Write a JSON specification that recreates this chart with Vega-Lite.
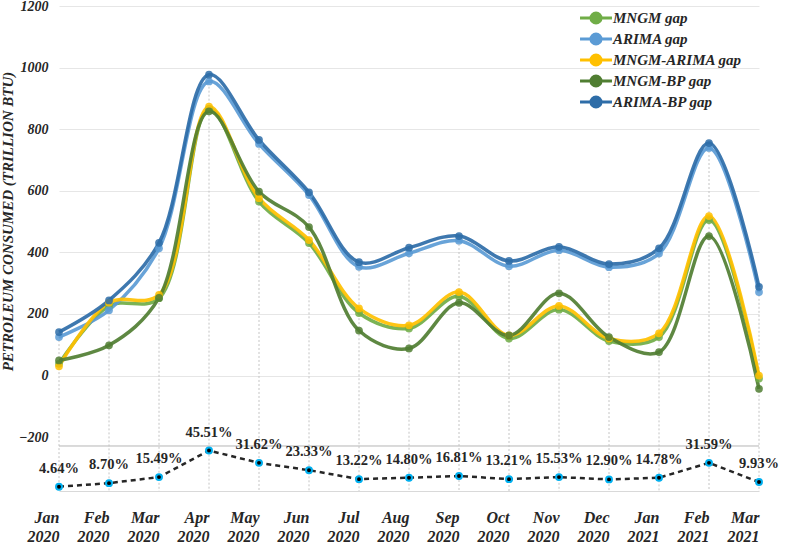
{
  "$schema": "https://vega.github.io/schema/vega-lite/v6.json",
  "autosize": {"type": "none"},
  "padding": {"left": 59, "top": 6, "right": 31, "bottom": 52},
  "width": 700,
  "height": 485,
  "background": "white",
  "config": {
    "view": {"stroke": null},
    "font": "Liberation Serif",
    "axis": {"labelFont": "Liberation Serif", "titleFont": "Liberation Serif", "labelColor": "#262626", "titleColor": "#262626"},
    "legend": {"labelFont": "Liberation Serif"}
  },
  "datasets": {
    "gaps": [
      {"month": "Jan 2020", "series": "MNGM gap", "value": 38},
      {"month": "Jan 2020", "series": "ARIMA gap", "value": 125},
      {"month": "Jan 2020", "series": "MNGM-ARIMA gap", "value": 30},
      {"month": "Jan 2020", "series": "MNGM-BP gap", "value": 49},
      {"month": "Jan 2020", "series": "ARIMA-BP gap", "value": 141},
      {"month": "Feb 2020", "series": "MNGM gap", "value": 226},
      {"month": "Feb 2020", "series": "ARIMA gap", "value": 212},
      {"month": "Feb 2020", "series": "MNGM-ARIMA gap", "value": 237},
      {"month": "Feb 2020", "series": "MNGM-BP gap", "value": 98},
      {"month": "Feb 2020", "series": "ARIMA-BP gap", "value": 244},
      {"month": "Mar 2020", "series": "MNGM gap", "value": 251},
      {"month": "Mar 2020", "series": "ARIMA gap", "value": 413},
      {"month": "Mar 2020", "series": "MNGM-ARIMA gap", "value": 262},
      {"month": "Mar 2020", "series": "MNGM-BP gap", "value": 252},
      {"month": "Mar 2020", "series": "ARIMA-BP gap", "value": 431},
      {"month": "Apr 2020", "series": "MNGM gap", "value": 866},
      {"month": "Apr 2020", "series": "ARIMA gap", "value": 955},
      {"month": "Apr 2020", "series": "MNGM-ARIMA gap", "value": 873},
      {"month": "Apr 2020", "series": "MNGM-BP gap", "value": 858},
      {"month": "Apr 2020", "series": "ARIMA-BP gap", "value": 977},
      {"month": "May 2020", "series": "MNGM gap", "value": 565},
      {"month": "May 2020", "series": "ARIMA gap", "value": 752},
      {"month": "May 2020", "series": "MNGM-ARIMA gap", "value": 576},
      {"month": "May 2020", "series": "MNGM-BP gap", "value": 597},
      {"month": "May 2020", "series": "ARIMA-BP gap", "value": 765},
      {"month": "Jun 2020", "series": "MNGM gap", "value": 430},
      {"month": "Jun 2020", "series": "ARIMA gap", "value": 586},
      {"month": "Jun 2020", "series": "MNGM-ARIMA gap", "value": 440},
      {"month": "Jun 2020", "series": "MNGM-BP gap", "value": 482},
      {"month": "Jun 2020", "series": "ARIMA-BP gap", "value": 595},
      {"month": "Jul 2020", "series": "MNGM gap", "value": 203},
      {"month": "Jul 2020", "series": "ARIMA gap", "value": 353},
      {"month": "Jul 2020", "series": "MNGM-ARIMA gap", "value": 218},
      {"month": "Jul 2020", "series": "MNGM-BP gap", "value": 146},
      {"month": "Jul 2020", "series": "ARIMA-BP gap", "value": 368},
      {"month": "Aug 2020", "series": "MNGM gap", "value": 153},
      {"month": "Aug 2020", "series": "ARIMA gap", "value": 397},
      {"month": "Aug 2020", "series": "MNGM-ARIMA gap", "value": 163},
      {"month": "Aug 2020", "series": "MNGM-BP gap", "value": 88},
      {"month": "Aug 2020", "series": "ARIMA-BP gap", "value": 415},
      {"month": "Sep 2020", "series": "MNGM gap", "value": 257},
      {"month": "Sep 2020", "series": "ARIMA gap", "value": 438},
      {"month": "Sep 2020", "series": "MNGM-ARIMA gap", "value": 271},
      {"month": "Sep 2020", "series": "MNGM-BP gap", "value": 236},
      {"month": "Sep 2020", "series": "ARIMA-BP gap", "value": 453},
      {"month": "Oct 2020", "series": "MNGM gap", "value": 120},
      {"month": "Oct 2020", "series": "ARIMA gap", "value": 355},
      {"month": "Oct 2020", "series": "MNGM-ARIMA gap", "value": 130},
      {"month": "Oct 2020", "series": "MNGM-BP gap", "value": 130},
      {"month": "Oct 2020", "series": "ARIMA-BP gap", "value": 372},
      {"month": "Nov 2020", "series": "MNGM gap", "value": 214},
      {"month": "Nov 2020", "series": "ARIMA gap", "value": 407},
      {"month": "Nov 2020", "series": "MNGM-ARIMA gap", "value": 226},
      {"month": "Nov 2020", "series": "MNGM-BP gap", "value": 267},
      {"month": "Nov 2020", "series": "ARIMA-BP gap", "value": 418},
      {"month": "Dec 2020", "series": "MNGM gap", "value": 112},
      {"month": "Dec 2020", "series": "ARIMA gap", "value": 352},
      {"month": "Dec 2020", "series": "MNGM-ARIMA gap", "value": 120},
      {"month": "Dec 2020", "series": "MNGM-BP gap", "value": 125},
      {"month": "Dec 2020", "series": "ARIMA-BP gap", "value": 362},
      {"month": "Jan 2021", "series": "MNGM gap", "value": 125},
      {"month": "Jan 2021", "series": "ARIMA gap", "value": 396},
      {"month": "Jan 2021", "series": "MNGM-ARIMA gap", "value": 137},
      {"month": "Jan 2021", "series": "MNGM-BP gap", "value": 76},
      {"month": "Jan 2021", "series": "ARIMA-BP gap", "value": 413},
      {"month": "Feb 2021", "series": "MNGM gap", "value": 505},
      {"month": "Feb 2021", "series": "ARIMA gap", "value": 739},
      {"month": "Feb 2021", "series": "MNGM-ARIMA gap", "value": 518},
      {"month": "Feb 2021", "series": "MNGM-BP gap", "value": 453},
      {"month": "Feb 2021", "series": "ARIMA-BP gap", "value": 755},
      {"month": "Mar 2021", "series": "MNGM gap", "value": -10},
      {"month": "Mar 2021", "series": "ARIMA gap", "value": 271},
      {"month": "Mar 2021", "series": "MNGM-ARIMA gap", "value": 0},
      {"month": "Mar 2021", "series": "MNGM-BP gap", "value": -43},
      {"month": "Mar 2021", "series": "ARIMA-BP gap", "value": 288}
    ],
    "pct": [
      {"month": "Jan 2020", "pct": 0.0464},
      {"month": "Feb 2020", "pct": 0.0870},
      {"month": "Mar 2020", "pct": 0.1549},
      {"month": "Apr 2020", "pct": 0.4551},
      {"month": "May 2020", "pct": 0.3162},
      {"month": "Jun 2020", "pct": 0.2333},
      {"month": "Jul 2020", "pct": 0.1322},
      {"month": "Aug 2020", "pct": 0.1480},
      {"month": "Sep 2020", "pct": 0.1681},
      {"month": "Oct 2020", "pct": 0.1321},
      {"month": "Nov 2020", "pct": 0.1553},
      {"month": "Dec 2020", "pct": 0.1290},
      {"month": "Jan 2021", "pct": 0.1478},
      {"month": "Feb 2021", "pct": 0.3159},
      {"month": "Mar 2021", "pct": 0.0993}
    ]
  },
  "layer": [
    {
      "data": {"name": "gaps"},
      "layer": [
        {
          "mark": {"type": "rule", "color": "#D9D9D9", "strokeWidth": 1},
          "encoding": {
            "y": {"datum": -228, "type": "quantitative", "scale": {"domain": [-375, 1200], "nice": false, "zero": false}, "title": "PETROLEUM CONSUMED (TRILLION BTU)"}
          }
        },
        {
          "mark": {"type": "rule", "color": "#C4C4C4", "strokeDash": [2, 2], "strokeWidth": 1},
          "encoding": {
            "x": {"field": "month", "type": "ordinal", "sort": null, "scale": {"type": "point", "padding": 0}, "title": null},
            "y": {"aggregate": "max", "field": "value", "type": "quantitative", "scale": {"domain": [-375, 1200], "nice": false, "zero": false}, "title": "PETROLEUM CONSUMED (TRILLION BTU)"},
            "y2": {"datum": -375}
          }
        },
        {
          "encoding": {
            "x": {"field": "month", "type": "ordinal", "sort": null, "scale": {"type": "point", "padding": 0}, "title": null,
              "axis": {"labelExpr": "split(datum.label, ' ')", "labelAngle": 0, "labelFontSize": 16, "labelFontWeight": "bold", "labelFontStyle": "italic", "labelLineHeight": 19, "labelPadding": 26, "ticks": false, "grid": false, "domainColor": "#D9D9D9", "domainWidth": 1}},
            "y": {"field": "value", "type": "quantitative", "scale": {"domain": [-375, 1200], "nice": false, "zero": false}, "title": "PETROLEUM CONSUMED (TRILLION BTU)",
              "axis": {"values": [-200, 0, 200, 400, 600, 800, 1000, 1200], "format": "d", "domain": false, "ticks": false, "grid": true, "gridColor": "#E6E6E6", "gridWidth": 1,
                "gridOpacity": {"condition": {"test": "datum.value < -100", "value": 0}, "value": 1},
                "labelFontSize": 14, "labelFontWeight": "bold", "labelFontStyle": "italic", "labelPadding": 11,
                "titleFontSize": 15, "titleFontWeight": "bold", "titleFontStyle": "italic", "titlePadding": 3, "titleY": 215}},
            "color": {"field": "series", "type": "nominal",
              "scale": {"domain": ["MNGM gap", "ARIMA gap", "MNGM-ARIMA gap", "MNGM-BP gap", "ARIMA-BP gap"], "range": ["#70AD47", "#5B9BD5", "#FFC000", "#507E32", "#2E6DA8"]},
              "legend": {"title": null, "orient": "none", "legendX": 528, "legendY": 3, "padding": 0, "rowPadding": -4,
                "symbolType": "M-2.13,0H-0.67M0.67,0H2.13M-0.67,0A0.67,0.67,0,1,1,0.67,0A0.67,0.67,0,1,1,-0.67,0Z",
                "symbolSize": 225, "symbolStrokeWidth": 3, "symbolOpacity": 1,
                "labelFontSize": 15, "labelFontWeight": "bold", "labelFontStyle": "italic", "labelColor": "#262626", "labelOffset": 8,
                "encode": {"symbols": {"update": {"fill": {"scale": "color", "field": "value"}, "stroke": {"scale": "color", "field": "value"}}}}}}
          },
          "layer": [
            {"mark": {"type": "line", "interpolate": "catmull-rom", "strokeWidth": 3.5, "opacity": 0.92}},
            {"mark": {"type": "point", "filled": true, "size": 60, "opacity": 0.85}}
          ]
        }
      ]
    },
    {
      "data": {"name": "pct"},
      "encoding": {
        "x": {"field": "month", "type": "ordinal", "sort": null, "scale": {"type": "point", "padding": 0}, "title": null},
        "y": {"field": "pct", "type": "quantitative", "scale": {"domain": [-0.002, 5.48], "nice": false, "zero": false}, "axis": null}
      },
      "layer": [
        {"mark": {"type": "line", "color": "#262626", "strokeDash": [5, 4], "strokeWidth": 2.5}},
        {"mark": {"type": "point", "filled": true, "fill": "black", "stroke": "#00B0F0", "strokeWidth": 2, "size": 35, "opacity": 1}},
        {"mark": {"type": "text", "dy": -18, "font": "Liberation Serif", "fontSize": 14.5, "fontWeight": "bold", "color": "#262626"},
          "encoding": {"text": {"field": "pct", "type": "quantitative", "format": ".2%"}}}
      ]
    }
  ],
  "resolve": {"scale": {"y": "independent"}}
}
